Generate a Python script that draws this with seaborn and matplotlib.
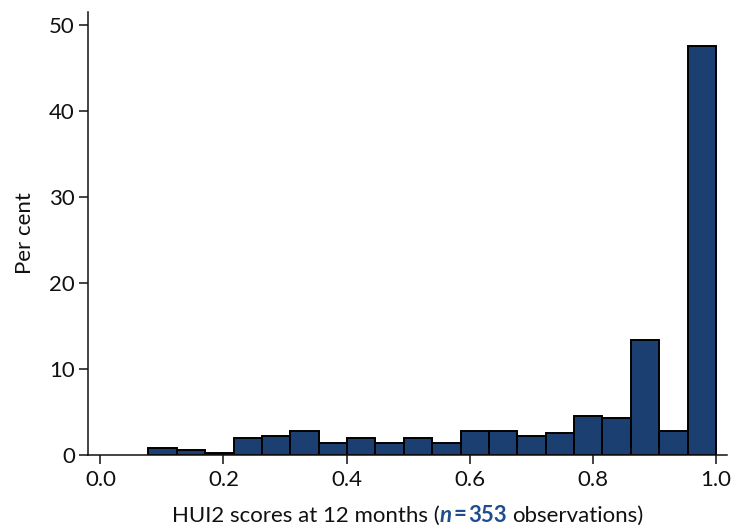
import numpy as np
import pandas as pd
import matplotlib
matplotlib.use("Agg")
import matplotlib.pyplot as plt
import seaborn as sns

# ---- data ----
bin_start = 0.078
bin_end = 1.0
n_bins = 20
# observations per bin (n = 353)
counts = [3, 2, 1, 7, 8, 10, 5, 7, 5, 7, 5, 10, 10, 8, 9, 16, 15, 47, 10, 168]
x_ticks = [0.0, 0.2, 0.4, 0.6, 0.8, 1.0]
x_tick_labels = ["0.0", "0.2", "0.4", "0.6", "0.8", "1.0"]
y_ticks = [0, 10, 20, 30, 40, 50]
n_obs = 353

bar_color = "#1c3f71"
label_blue = "#1f4e8c"
text_color = "#111111"

edges = [float(e) for e in np.linspace(bin_start, bin_end, n_bins + 1)]
centers = [(a + b) / 2 for a, b in zip(edges[:-1], edges[1:])]
df = pd.DataFrame({"score": centers, "count": counts})

sns.set_style("ticks")
plt.rcParams["font.family"] = ["Lato", "DejaVu Sans"]

FS = 16
fig = plt.figure(figsize=(7.34, 5.26), dpi=100)
ax = fig.add_axes([0.12, 0.135, 0.87, 0.842])

sns.histplot(data=df, x="score", weights="count", bins=edges, stat="percent",
             color=bar_color, alpha=1.0, edgecolor="black", linewidth=1.4, ax=ax)

ax.set_xlim(-0.02, 1.0175)
ax.set_ylim(0, 51.5)
ax.set_xticks(x_ticks)
ax.set_xticklabels(x_tick_labels)
ax.set_yticks(y_ticks)
ax.tick_params(axis="both", labelsize=FS, length=6.5, width=1.1, colors=text_color,
               direction="out")
ax.tick_params(axis="x", pad=4)
ax.tick_params(axis="y", pad=3)
sns.despine(ax=ax)
for s in ["left", "bottom"]:
    ax.spines[s].set_linewidth(1.1)
    ax.spines[s].set_color(text_color)

ax.set_xlabel("")
ax.set_ylabel("Per cent", fontsize=FS, color=text_color, labelpad=10)

# mixed-style x label
fig.canvas.draw()
r = fig.canvas.get_renderer()
parts = [
    ("HUI2 scores at 12 months (", dict(color=text_color)),
    ("n", dict(color=label_blue, fontweight="bold", fontstyle="italic")),
    ("=", dict(color=label_blue, fontweight="bold")),
    ("353", dict(color=label_blue, fontweight="bold")),
    ("observations)", dict(color=text_color)),
]
gaps_px = [0, 0, 2, 2, 5]
texts = []
widths = []
y_fig = 4.5 / 526
for s, kw in parts:
    t = fig.text(0, y_fig, s, fontsize=FS, ha="left", va="baseline", **kw)
    bb = t.get_window_extent(renderer=r)
    texts.append(t)
    widths.append(bb.width)
total = sum(widths) + sum(gaps_px)
axbb = ax.get_window_extent(renderer=r)
cx = (axbb.x0 + axbb.x1) / 2
x = cx - total / 2
W = fig.bbox.width
for t, w, g in zip(texts, widths, gaps_px):
    x += g
    t.set_x(x / W)
    x += w

fig.savefig("out.png", dpi=100)
